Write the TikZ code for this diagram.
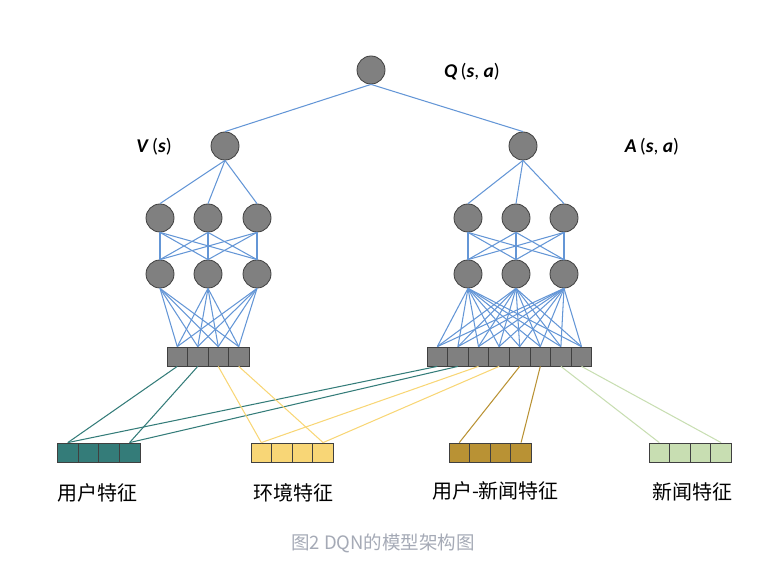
\documentclass[tikz,border=0pt]{standalone}
\usepackage{fontspec}
\setmainfont{Carlito}
\newfontfamily\cjk{Noto Sans CJK SC}

\definecolor{nodegray}{RGB}{128,128,128}
\definecolor{edgeblue}{RGB}{100,150,214}
\definecolor{userteal}{RGB}{52,124,121}
\definecolor{envyellow}{RGB}{248,214,118}
\definecolor{unbrown}{RGB}{185,146,52}
\definecolor{newsgreen}{RGB}{200,222,178}
\definecolor{capgray}{RGB}{165,170,182}

\newcommand{\bivar}[1]{\textbf{\textit{#1}}}

\tikzset{
  neuron/.style={circle,draw=black!75,fill=nodegray,minimum size=28pt,inner sep=0pt,line width=0.8pt},
  cell/.style={draw=black!75,fill=#1,minimum width=20.6pt,minimum height=19pt,inner sep=0pt,line width=0.8pt},
  cell/.default=nodegray,
  wire/.style={edgeblue,line width=1.05pt},
  featline/.style={#1,line width=1.05pt},
  qlabel/.style={font=\fontsize{19.5}{20}\selectfont},
  featlabel/.style={font=\cjk\fontsize{20}{21}\selectfont},
}

\begin{document}
\begin{tikzpicture}[x=1pt,y=-1pt]
    \useasboundingbox (0,0) rectangle (758,561);
    % output and the two streams
    \node[neuron] (q) at (371,70) {};
    \node[neuron] (v) at (225,146) {};
    \node[neuron] (a) at (523,146) {};
    \foreach \i/\x in {1/160,2/208,3/257} {
        \node[neuron] (vh\i) at (\x,218) {};
        \node[neuron] (vl\i) at (\x,274) {};
    }
    \foreach \i/\x in {1/468,2/516,3/564} {
        \node[neuron] (ah\i) at (\x,218) {};
        \node[neuron] (al\i) at (\x,274) {};
    }
    % input bars
    \foreach \i in {1,...,4}
        \node[cell] (vb\i) at ({167+20.5*(\i-0.5)},356.5) {};
    \foreach \i in {1,...,8}
        \node[cell] (ab\i) at ({427+20.6*(\i-0.5)},356.5) {};
    % feature groups
    \foreach \n/\x/\c in {u/57.5/userteal,e/251/envyellow,un/449/unbrown,n/649/newsgreen}
        \foreach \i in {1,...,4}
            \node[cell=\c] (\n\i) at ({\x+20.6*(\i-0.5)},452.5) {};

    \draw[wire] (q.south) -- (v.north);
    \draw[wire] (q.south) -- (a.north);
    \foreach \i in {1,2,3} {
        \draw[wire] (v.south) -- (vh\i.north);
        \draw[wire] (a.south) -- (ah\i.north);
        \foreach \j in {1,2,3} {
            \draw[wire] (vh\i.south) -- (vl\j.north);
            \draw[wire] (ah\i.south) -- (al\j.north);
        }
        \foreach \j in {1,...,4}
            \draw[wire] (vl\i.south) -- (vb\j.north);
        \foreach \j in {1,...,8}
            \draw[wire] (al\i.south) -- (ab\j.north);
    }

    \draw[featline=userteal] (vb1.south) -- (u1.north);
    \draw[featline=userteal] (vb2.south) -- (u4.north);
    \draw[featline=userteal] (ab1.south) -- (u1.north);
    \draw[featline=userteal] (ab2.south) -- (u4.north);
    \draw[featline=envyellow] (vb3.south) -- (e1.north);
    \draw[featline=envyellow] (vb4.south) -- (e4.north);
    \draw[featline=envyellow] (ab3.south) -- (e1.north);
    \draw[featline=envyellow] (ab4.south) -- (e4.north);
    \draw[featline=unbrown] (ab5.south) -- (un1.north);
    \draw[featline=unbrown] (ab6.south) -- (un4.north);
    \draw[featline=newsgreen] (ab7.south) -- (n1.north);
    \draw[featline=newsgreen] (ab8.south) -- (n4.north);

    \node[qlabel] (qlab) at (472,72) {\bivar{Q}\,(\bivar{s}, \bivar{a})};
    \node[qlabel] (vlab) at (154,147) {\bivar{V}\,(\bivar{s})};
    \node[qlabel] (alab) at (652,147) {\bivar{A}\,(\bivar{s}, \bivar{a})};

    \node[featlabel] (ulab) at (97.5,493) {用户特征};
    \node[featlabel] (elab) at (293,493) {环境特征};
    \node[featlabel] (unlab) at (495.5,491) {用户-新闻特征};
    \node[featlabel] (nlab) at (692,492) {新闻特征};

    \node[font=\cjk\fontsize{18.5}{19}\selectfont,text=capgray] (cap) at (383,543) {图2 DQN的模型架构图};
\end{tikzpicture}
\end{document}
